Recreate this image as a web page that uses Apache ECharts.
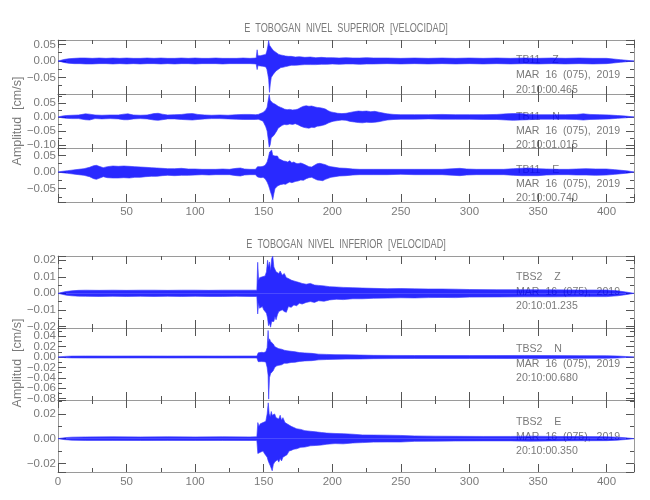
<!DOCTYPE html>
<html>
<head>
<meta charset="utf-8">
<script src="https://cdn.jsdelivr.net/npm/echarts@6/dist/echarts.min.js"></script>
<style>html,body{margin:0;padding:0;background:#fff}#c{width:650px;height:500px}</style>
</head>
<body>
<div id="c"></div>
<script>
// ---- Data (envelopes; time in s, velocity in cm/s) ----
const blockTitles = ['E  TOBOGAN  NIVEL  SUPERIOR  [VELOCIDAD]', 'E  TOBOGAN  NIVEL  INFERIOR  [VELOCIDAD]'];
const yAxisName = 'Amplitud  [cm/s]';
const stations = ['TB11    Z', 'TB11    N', 'TB11    E', 'TBS2    Z', 'TBS2    N', 'TBS2    E'];
const dateText = 'MAR  16  (075),  2019';
const startTimes = ['20:10:00.465', '20:10:01.015', '20:10:00.740', '20:10:01.235', '20:10:00.680', '20:10:00.350'];
const yMin = [-0.1, -0.111, -0.09, -0.021, -0.0827, -0.027];
const yMax = [0.0636, 0.082, 0.072, 0.0226, 0.0558, 0.0313];
const ySplit = [3, 4, 3, 4, 7, 3];
const xMin = 0, xMax = 420;

const tb11Z_t  = [0,2,5,8,12,16,20,25,30,35,40,45,50,55,60,65,70,75,80,85,90,95,100,105,110,115,120,125,130,135,140,144.5,145.2,145.8,146.5,147.5,148.5,149.5,150.5,151.5,152.3,153,153.6,154.2,154.8,155.5,156.2,157,158,159,160,161,162.5,164,166,168,170,173,176,180,184,188,192,196,200,205,210,215,220,225,230,240,250,260,270,280,290,300,310,320,330,340,350,360,370,380,390,400,405,410,415,420];
const tb11Z_up = [0,.002,.005,.007,.008,.009,.009,.008,.009,.008,.009,.008,.009,.008,.008,.009,.008,.009,.008,.008,.009,.008,.009,.008,.008,.009,.008,.008,.008,.009,.008,.009,.034,.016,.014,.016,.015,.018,.017,.02,.03,.045,.062,.048,.05,.04,.035,.032,.028,.026,.022,.02,.018,.017,.015,.014,.014,.012,.013,.011,.012,.01,.011,.01,.01,.009,.01,.009,.009,.01,.009,.009,.008,.009,.008,.009,.008,.009,.008,.009,.008,.009,.008,.009,.008,.009,.008,.008,.006,.004,.002,0];
const tb11Z_lo = [0,-.002,-.005,-.007,-.008,-.008,-.009,-.009,-.008,-.008,-.009,-.008,-.009,-.008,-.009,-.008,-.008,-.009,-.008,-.009,-.008,-.008,-.009,-.008,-.008,-.008,-.009,-.008,-.008,-.008,-.008,-.009,-.026,-.014,-.013,-.015,-.016,-.016,-.019,-.018,-.025,-.04,-.055,-.095,-.07,-.05,-.045,-.04,-.036,-.03,-.025,-.024,-.02,-.019,-.017,-.015,-.013,-.013,-.012,-.011,-.011,-.011,-.01,-.01,-.009,-.01,-.009,-.009,-.01,-.009,-.009,-.008,-.009,-.008,-.009,-.008,-.009,-.008,-.009,-.008,-.009,-.008,-.009,-.008,-.009,-.008,-.009,-.008,-.006,-.004,-.002,0];

const tb11N_t  = [0,3,6,10,15,20,23,27,32,38,44,48,51,55,60,65,70,73,76,80,85,90,94,98,102,107,112,118,124,130,135,140,144,146,148,149.5,150.5,151.5,152.5,153.3,154,154.7,155.5,156.5,157.5,158.5,159.5,160.5,162,163.5,165,167,169,171,173,175,177,179,181,183,185,187,189,191,193,195,197,199,201,204,207,210,213,216,219,222,225,228,231,234,237,240,245,250,260,270,280,290,300,310,320,327,332,337,342,350,360,370,378,383,388,395,402,408,414,420];
const tb11N_up = [0,.003,.005,.006,.007,.011,.01,.007,.006,.007,.007,.01,.011,.007,.006,.007,.012,.013,.01,.007,.008,.009,.011,.012,.009,.007,.006,.007,.006,.008,.009,.009,.008,.009,.013,.016,.02,.025,.035,.06,.08,.06,.055,.05,.052,.045,.042,.038,.035,.032,.028,.026,.027,.025,.026,.028,.034,.038,.04,.038,.039,.036,.034,.033,.031,.028,.022,.018,.016,.013,.012,.013,.016,.019,.021,.02,.021,.019,.02,.017,.014,.011,.009,.008,.008,.008,.009,.008,.008,.008,.009,.011,.012,.012,.01,.008,.008,.008,.009,.011,.009,.008,.007,.005,.003,0];
const tb11N_lo = [0,-.003,-.005,-.006,-.006,-.01,-.011,-.006,-.007,-.006,-.007,-.01,-.01,-.007,-.006,-.007,-.011,-.012,-.01,-.007,-.007,-.009,-.01,-.011,-.009,-.007,-.006,-.006,-.007,-.008,-.009,-.009,-.009,-.008,-.012,-.015,-.025,-.035,-.05,-.08,-.108,-.1,-.075,-.07,-.065,-.06,-.05,-.04,-.035,-.03,-.027,-.028,-.025,-.027,-.024,-.028,-.033,-.037,-.039,-.04,-.037,-.038,-.033,-.032,-.03,-.027,-.022,-.018,-.015,-.013,-.011,-.012,-.016,-.018,-.02,-.021,-.019,-.02,-.019,-.017,-.014,-.011,-.009,-.008,-.008,-.007,-.008,-.008,-.008,-.009,-.009,-.011,-.012,-.011,-.01,-.008,-.008,-.008,-.009,-.011,-.009,-.008,-.007,-.005,-.003,0];

const tb11E_t  = [0,3,7,11,15,19,23,26,28,30,33,36,40,44,48,52,56,60,64,68,72,76,80,85,90,95,100,105,110,115,120,125,130,133,136,140,144,145.5,146.5,148,149.5,151,152.5,153.5,154.3,155,155.8,156.6,157.4,158.2,159,160,161,162,163,164.5,166,167.5,169,170.5,172,173.5,175,177,179,181,183,185,187,189,191,193,195,197,199,202,205,210,215,220,230,240,250,260,270,280,288,293,298,305,315,325,332,338,344,350,356,365,372,378,385,392,400,406,411,416,420];
const tb11E_up = [0,.002,.004,.006,.008,.01,.014,.019,.02,.017,.013,.016,.018,.017,.018,.017,.016,.015,.014,.013,.012,.011,.01,.01,.011,.009,.009,.008,.008,.008,.009,.008,.011,.012,.009,.008,.008,.016,.018,.016,.017,.02,.03,.045,.06,.055,.066,.05,.055,.048,.045,.048,.04,.044,.036,.033,.032,.03,.034,.028,.03,.026,.025,.027,.024,.02,.016,.015,.02,.025,.026,.024,.022,.018,.016,.014,.012,.011,.009,.008,.008,.008,.008,.008,.008,.008,.01,.011,.009,.008,.008,.008,.01,.011,.012,.01,.009,.008,.008,.009,.01,.009,.009,.007,.005,.003,0];
const tb11E_lo = [0,-.002,-.004,-.006,-.008,-.01,-.014,-.02,-.022,-.019,-.014,-.017,-.018,-.018,-.017,-.018,-.016,-.016,-.014,-.013,-.013,-.011,-.01,-.011,-.01,-.01,-.009,-.008,-.009,-.008,-.008,-.008,-.011,-.012,-.009,-.008,-.008,-.015,-.018,-.017,-.016,-.02,-.03,-.04,-.05,-.06,-.07,-.083,-.065,-.05,-.045,-.042,-.04,-.038,-.04,-.036,-.037,-.033,-.03,-.032,-.03,-.028,-.027,-.024,-.025,-.02,-.017,-.016,-.02,-.024,-.025,-.026,-.022,-.019,-.016,-.014,-.012,-.011,-.009,-.008,-.008,-.008,-.007,-.008,-.008,-.008,-.01,-.011,-.009,-.008,-.008,-.008,-.01,-.011,-.011,-.011,-.009,-.008,-.008,-.009,-.009,-.01,-.009,-.007,-.005,-.003,0];

const tbs2Z_t  = [0,3,6,10,15,20,30,40,50,60,70,80,90,100,110,120,130,140,145,145.6,146.3,147,148,149,150,151,152,152.8,153.5,154.2,155,155.8,156.6,157.4,158.2,159,160,161,162,163.5,165,166.5,168,170,172,174,176,178,181,184,187,190,194,198,203,208,215,222,230,240,250,260,270,280,290,300,320,340,360,380,400,408,414,420];
const tbs2Z_up = [0,.0006,.0011,.0015,.0018,.0019,.0018,.0019,.0018,.0019,.0019,.0018,.0019,.0019,.0018,.0019,.0019,.0019,.0019,.0188,.008,.0095,.0085,.01,.009,.0105,.013,.02,.016,.019,.014,.021,.0225,.016,.0155,.013,.014,.012,.0135,.011,.012,.0095,.009,.008,.0075,.007,.0065,.006,.0055,.006,.005,.0048,.0045,.004,.0038,.0036,.0034,.0032,.003,.0028,.0029,.0027,.0026,.0026,.0025,.0023,.0022,.0022,.0021,.002,.002,.0015,.0008,0];
const tbs2Z_lo = [0,-.0006,-.0011,-.0015,-.0017,-.0018,-.0019,-.0018,-.0019,-.0018,-.0019,-.0018,-.0019,-.0018,-.0019,-.0019,-.0018,-.0019,-.0019,-.0125,-.006,-.009,-.0095,-.008,-.01,-.0095,-.012,-.015,-.0196,-.018,-.0205,-.017,-.016,-.017,-.014,-.016,-.013,-.011,-.012,-.01,-.011,-.0115,-.008,-.0085,-.007,-.0075,-.006,-.0065,-.0055,-.005,-.0055,-.0045,-.0048,-.004,-.0036,-.0038,-.0033,-.0033,-.003,-.0029,-.0027,-.0028,-.0026,-.0025,-.0026,-.0023,-.0022,-.0021,-.0021,-.002,-.002,-.0015,-.0008,0];

const tbs2N_t  = [0,5,10,20,40,60,80,100,120,140,145,146,147,148.5,150,151.5,152.5,153.2,153.6,154.2,155,156,157,158,159.5,161,163,165,167,170,173,176,180,185,190,196,202,210,220,230,245,260,280,300,320,340,360,380,400,408,414,420];
const tbs2N_up = [0,.0012,.0017,.0019,.0018,.0019,.0018,.0019,.0018,.0019,.0019,.008,.0085,.009,.0085,.01,.018,.051,.03,.035,.03,.028,.025,.02,.018,.016,.015,.013,.012,.011,.01,.0085,.0078,.007,.0055,.005,.0045,.0042,.0038,.0032,.003,.0029,.0028,.0027,.0028,.003,.0027,.0026,.0024,.0018,.001,0];
const tbs2N_lo = [0,-.0012,-.0017,-.0019,-.0019,-.0018,-.0019,-.0018,-.0019,-.0018,-.0019,-.009,-.008,-.0088,-.009,-.0095,-.02,-.035,-.081,-.04,-.032,-.03,-.026,-.02,-.017,-.016,-.015,-.012,-.012,-.0105,-.01,-.0085,-.0075,-.007,-.0055,-.0048,-.0045,-.004,-.0038,-.0032,-.003,-.0028,-.0028,-.0027,-.0028,-.003,-.0027,-.0026,-.0024,-.0018,-.001,0];

const tbs2E_t  = [0,5,10,20,40,60,80,100,120,140,145,145.7,146.5,147.5,148.5,149.5,150.5,151.5,152.5,153.3,154,154.8,155.5,156.2,157,158,159,160,161,162,163,164,165.5,167,168.5,170,172,174,177,180,184,188,192,196,202,208,215,222,230,240,250,260,275,290,310,330,345,360,380,400,408,414,420];
const tbs2E_up = [0,.0008,.0012,.0014,.0015,.0014,.0015,.0014,.0015,.0014,.0015,.013,.01,.012,.011,.013,.0115,.014,.02,.029,.02,.018,.022,.019,.018,.02,.017,.018,.016,.019,.015,.017,.013,.012,.011,.01,.009,.008,.0075,.0065,.006,.0055,.005,.0045,.0042,.004,.0036,.003,.0029,.0028,.0026,.0022,.002,.0019,.0018,.0018,.002,.0018,.0017,.0016,.0012,.0007,0];
const tbs2E_lo = [0,-.0008,-.0012,-.0014,-.0014,-.0015,-.0014,-.0015,-.0014,-.0015,-.0015,-.012,-.013,-.011,-.0125,-.01,-.012,-.013,-.015,-.018,-.02,-.022,-.024,-.026,-.021,-.019,-.02,-.017,-.019,-.016,-.018,-.015,-.014,-.013,-.01,-.0095,-.0085,-.0082,-.007,-.0068,-.0058,-.0055,-.0052,-.0045,-.004,-.0042,-.0035,-.0032,-.0028,-.0027,-.0027,-.0022,-.002,-.0019,-.0018,-.0018,-.002,-.0018,-.0017,-.0016,-.0012,-.0007,0];

const traceT  = [tb11Z_t, tb11N_t, tb11E_t, tbs2Z_t, tbs2N_t, tbs2E_t];
const traceUp = [tb11Z_up, tb11N_up, tb11E_up, tbs2Z_up, tbs2N_up, tbs2E_up];
const traceLo = [tb11Z_lo, tb11N_lo, tb11E_lo, tbs2Z_lo, tbs2N_lo, tbs2E_lo];

// ---- Layout ----
const gridTops = [40, 94, 148, 256, 328, 400];
const gridHeights = [54, 54, 54, 72, 72, 72];
const GL = 58, GR = 16;
const AX = '#9a9a9a', TK = '#555555', TX = '#7a7a7a';
const FONT = '"Liberation Sans", Arial, sans-serif';

const fmtY = v => {
  if (Math.abs(v) < 1e-9) return '0.00';
  return (v < 0 ? '\u2212' : '') + Math.abs(v).toFixed(2);
};

const tickStyle = { color: TK, width: 1 };
const grids = [], xAxes = [], yAxes = [], series = [];
for (let g = 0; g < 6; g++) {
  grids.push({ left: GL, right: GR, top: gridTops[g], height: gridHeights[g], show: false, containLabel: false });
  const labelled = (g === 2 || g === 5);
  ['bottom', 'top'].forEach((pos, k) => {
    xAxes.push({
      gridIndex: g, type: 'value', position: pos, min: xMin, max: xMax, interval: 50,
      axisLine: { show: true, onZero: false, lineStyle: { color: AX, width: 1 } },
      axisTick: { show: true, inside: true, length: 8, lineStyle: tickStyle },
      minorTick: { show: true, splitNumber: 2, length: 4, lineStyle: tickStyle },
      splitLine: { show: false }, minorSplitLine: { show: false },
      axisLabel: { show: labelled && k === 0, color: TX, fontSize: 11.5, fontFamily: FONT, margin: 4,
        showMinLabel: g === 5, showMaxLabel: false }
    });
  });
  ['left', 'right'].forEach((pos, k) => {
    yAxes.push({
      gridIndex: g, type: 'value', position: pos, min: yMin[g], max: yMax[g], splitNumber: ySplit[g],
      axisLine: { show: true, onZero: false, lineStyle: { color: AX, width: 1 } },
      axisTick: { show: true, inside: true, length: 8, lineStyle: tickStyle },
      minorTick: { show: true, splitNumber: 2, length: 4, lineStyle: tickStyle },
      splitLine: { show: false }, minorSplitLine: { show: false },
      axisLabel: { show: k === 0, color: TX, fontSize: 11.5, fontFamily: FONT, margin: 2,
        showMinLabel: false, showMaxLabel: false, formatter: fmtY }
    });
  });
  [traceUp[g], traceLo[g]].forEach(vals => {
    series.push({
      type: 'line', xAxisIndex: 2 * g, yAxisIndex: 2 * g, showSymbol: false,
      silent: true, z: 3,
      data: traceT[g].map((t, i) => [t, vals[i]]),
      lineStyle: { color: '#3b3bff', width: 0.8, opacity: 0.8 },
      areaStyle: { color: '#0000ff', opacity: 0.84, origin: 0 }
    });
  });
}

// ---- Texts ----
const texts = [];
const centerX = GL + (650 - GL - GR) / 2;
[[29, 0], [245, 1]].forEach(([y, i]) => {
  texts.push({ type: 'text', x: centerX, y: y, scaleX: 0.76,
    style: { text: blockTitles[i], fill: TX, font: '12px ' + FONT, align: 'center', verticalAlign: 'middle' } });
});
[121, 363].forEach(cy => {
  texts.push({ type: 'text', x: 18, y: cy, rotation: Math.PI / 2,
    style: { text: yAxisName, fill: TX, font: '12.5px ' + FONT, align: 'center', verticalAlign: 'middle' } });
});
const labelY = [[60, 75, 90], [117, 131, 145], [170, 184, 198], [277, 292, 306], [349, 364, 378], [422, 437, 451]];
for (let g = 0; g < 6; g++) {
  const lines = [stations[g], dateText, startTimes[g]];
  lines.forEach((s, j) => {
    texts.push({ type: 'text', x: 516, y: labelY[g][j], scaleX: 0.92,
      style: { text: s, fill: TX, font: '11.5px ' + FONT, align: 'left', verticalAlign: 'middle' } });
  });
}

const chart = echarts.init(document.getElementById('c'), null, { renderer: 'canvas' });
chart.setOption({
  animation: false,
  backgroundColor: '#ffffff',
  grid: grids, xAxis: xAxes, yAxis: yAxes, series: series,
  graphic: { elements: texts }
});
</script>
</body>
</html>
